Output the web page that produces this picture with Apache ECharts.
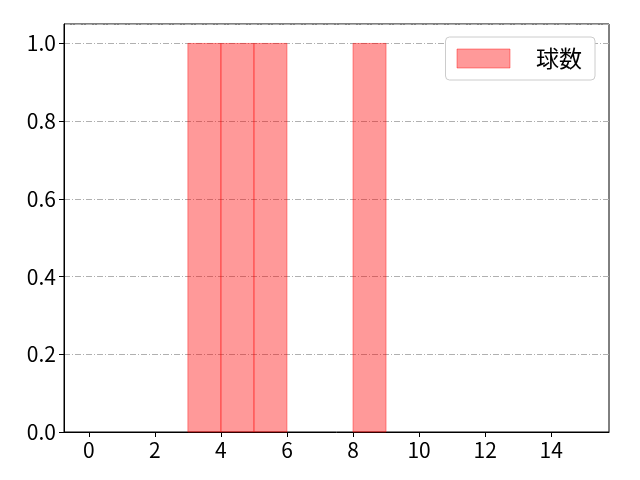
<!DOCTYPE html>
<html lang="ja">
<head>
<meta charset="UTF-8">
<title>球数</title>
<style>
    html,body{margin:0;padding:0;background:#fff;}
    #chart{width:640px;height:480px;}
</style>
</head>
<body>
<div id="chart"></div>
<script src="https://cdn.jsdelivr.net/npm/echarts@6/dist/echarts.min.js"></script>
<script>
// ヒストグラムのビン（左端）と度数
var binStarts = [0,1,2,3,4,5,6,7,8,9,10,11,12,13,14]
var counts    = [0,0,0,1,1,1,0,0,1,0,0,0,0,0,0]
var xTicks = [0,2,4,6,8,10,12,14]
var seriesName = '球数'

var barData = []
for (var i = 0; i < binStarts.length; i++) {
    if (counts[i] > 0) {
        barData.push([binStarts[i], binStarts[i] + 1, counts[i]])
    }
}

var font = '"Noto Sans CJK JP", "Noto Sans", sans-serif'
var myChart = echarts.init(document.getElementById('chart'))
var option = {
    animation: false,
    textStyle: {fontFamily: font},
    grid: {
        left: 64, right: 31, top: 24, bottom: 48,
        show: true, borderColor: '#000', borderWidth: 1, backgroundColor: 'transparent'
    },
    legend: {
        right: 45, top: 37,
        orient: 'vertical',
        data: [{name: seriesName, icon: 'rect'}],
        itemWidth: 53, itemHeight: 19, itemGap: 0,
        padding: [10, 13, 10, 11],
        borderColor: '#cccccc', borderWidth: 1, borderRadius: 4,
        backgroundColor: '#fff',
        textStyle: {fontSize: 23, color: '#000', fontFamily: font, padding: [0, 0, 0, 21]},
        itemStyle: {color: 'rgba(255,0,0,0.4)', borderColor: 'rgba(255,0,0,0.4)', borderWidth: 1}
    },
    xAxis: {
        type: 'value',
        min: -0.75, max: 15.75,
        axisLine: {show: true, onZero: false, lineStyle: {color: '#000', width: 1}},
        axisTick: {show: true, length: 5, lineStyle: {color: '#000'}, customValues: xTicks},
        axisLabel: {color: '#000', fontSize: 21, margin: 8, customValues: xTicks},
        splitLine: {show: false}
    },
    yAxis: {
        type: 'value',
        min: 0, max: 1.05, interval: 0.2,
        axisLine: {show: true, onZero: false, lineStyle: {color: '#000', width: 1}},
        axisTick: {show: true, length: 5, lineStyle: {color: '#000'}},
        axisLabel: {
            color: '#000', fontSize: 21, margin: 8, showMaxLabel: false,
            formatter: function (v) { return v.toFixed(1) }
        },
        splitLine: {show: true, lineStyle: {color: '#b0b0b0', width: 1, type: [6, 2, 1, 2]}}
    },
    series: [{
        name: seriesName,
        type: 'custom',
        itemStyle: {color: 'rgba(255,0,0,0.4)'},
        renderItem: function (params, api) {
            var p0 = api.coord([api.value(0), api.value(2)])
            var p1 = api.coord([api.value(1), 0])
            return {
                type: 'rect',
                shape: {x: p0[0], y: p0[1], width: p1[0] - p0[0], height: p1[1] - p0[1]},
                style: {fill: 'rgba(255,0,0,0.4)', stroke: 'rgba(255,0,0,0.4)', lineWidth: 1}
            }
        },
        encode: {x: [0, 1], y: 2},
        data: barData
    }]
}
myChart.setOption(option)
</script>
</body>
</html>
